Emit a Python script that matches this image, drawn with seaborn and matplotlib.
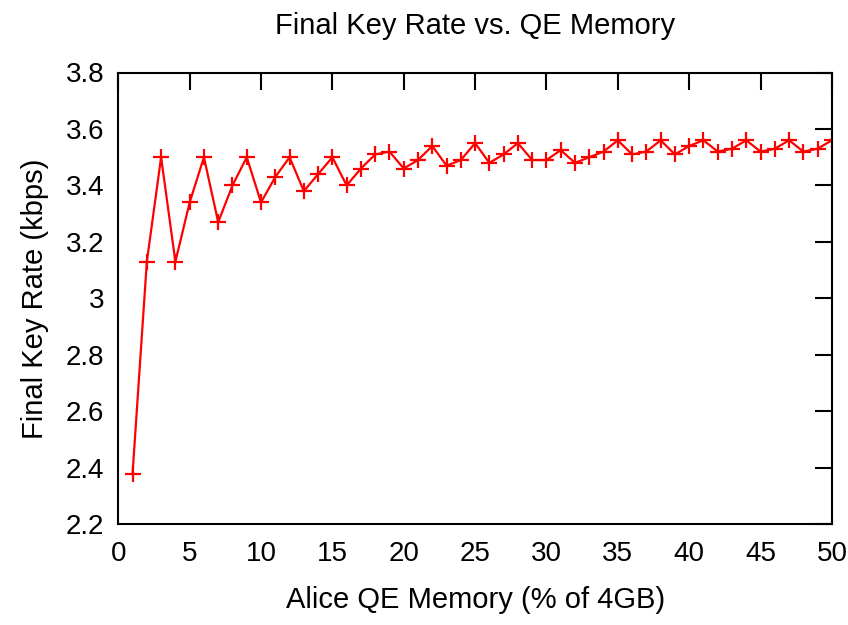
import matplotlib
matplotlib.use("Agg")
import matplotlib.pyplot as plt
import seaborn as sns
import pandas as pd

memory_pct = list(range(1, 51))
key_rate = [2.38, 3.13, 3.50, 3.13, 3.34, 3.50, 3.27, 3.40, 3.50, 3.34,
            3.43, 3.50, 3.38, 3.44, 3.50, 3.40, 3.46, 3.51, 3.52, 3.46,
            3.49, 3.54, 3.47, 3.49, 3.55, 3.48, 3.51, 3.55, 3.49, 3.49,
            3.525, 3.48, 3.50, 3.52, 3.56, 3.51, 3.52, 3.56, 3.51, 3.54,
            3.56, 3.52, 3.53, 3.56, 3.52, 3.53, 3.56, 3.52, 3.53, 3.56]
x_ticks = [0, 5, 10, 15, 20, 25, 30, 35, 40, 45, 50]
y_ticks = [2.2, 2.4, 2.6, 2.8, 3.0, 3.2, 3.4, 3.6, 3.8]
y_tick_labels = ["2.2", "2.4", "2.6", "2.8", "3", "3.2", "3.4", "3.6", "3.8"]

df = pd.DataFrame({"mem": memory_pct, "rate": key_rate})

sns.set_style("white")
plt.rcParams['font.family'] = ['Liberation Sans', 'DejaVu Sans']
plt.rcParams['text.color'] = 'black'
plt.rcParams['axes.labelcolor'] = 'black'

fig = plt.figure(figsize=(8.48, 6.25), dpi=100)
ax = fig.add_axes([0.1395, 0.161, 0.8415, 0.723])

sns.lineplot(data=df, x="mem", y="rate", ax=ax, color="#ff0000", linewidth=1.6,
             marker="+", markersize=12, markeredgewidth=1.6, markeredgecolor="#ff0000")

ax.set_xlim(0, 50)
ax.set_ylim(2.2, 3.8)
ax.set_xticks(x_ticks)
ax.set_xticklabels([str(t) for t in x_ticks])
ax.set_yticks(y_ticks)
ax.set_yticklabels(y_tick_labels)
ax.tick_params(axis="both", which="major", direction="in", length=12, width=1.5,
               top=True, right=True, labelsize=20, colors="black")
ax.tick_params(axis="x", pad=12)
ax.tick_params(axis="y", pad=10)
for s in ax.spines.values():
    s.set_color("black")
    s.set_linewidth(1.5)

ax.set_title("Final Key Rate vs. QE Memory", fontsize=21, pad=28, color="black")
ax.set_xlabel("Alice QE Memory (% of 4GB)", fontsize=21, labelpad=14)
ax.set_ylabel("Final Key Rate (kbps)", fontsize=21, labelpad=12)

fig.savefig("out.png", dpi=100)
